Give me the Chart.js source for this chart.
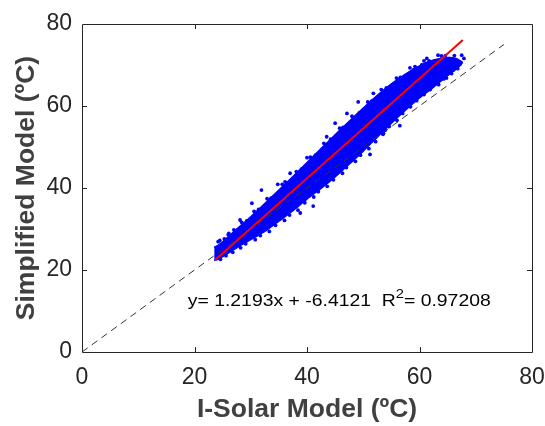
<!DOCTYPE html>
<html>
<head>
<meta charset="utf-8">
<script src="https://cdn.jsdelivr.net/npm/chart.js@4"></script>
<style>
  html, body { margin: 0; padding: 0; background: #fff; }
  #wrap { width: 545px; height: 426px; }
</style>
</head>
<body>
<div id="wrap"><canvas id="c" width="545" height="426"></canvas></div>
<script>
// ---- data ----
// dense core of the point cloud (upper / lower envelope)
const bandX     = [23.5, 24.5, 27.5, 30.0, 32.5, 35.0, 37.5, 40.0, 42.5, 45.0, 47.5, 50.0, 52.5, 55.0, 57.5, 60.0, 62.5, 65.0, 66.5, 67.5];
const bandUpper = [25.5, 26.3, 30.0, 33.0, 36.2, 39.5, 42.8, 46.2, 49.6, 53.0, 56.3, 59.5, 62.6, 65.4, 67.8, 69.8, 71.2, 71.8, 71.6, 70.8];
const bandLower = [22.3, 22.8, 25.4, 27.4, 29.4, 31.9, 34.5, 37.3, 39.9, 42.7, 45.8, 49.0, 52.4, 55.8, 59.0, 62.0, 64.6, 67.4, 69.0, 70.2];

// individual points visible around the edges of the cloud
const edgeX = [24.2, 25.3, 26.1, 27.0, 28.4, 29.3, 30.6, 31.4, 32.9, 33.6, 35.6, 36.4, 38.1, 39.0, 40.6, 41.5, 43.0, 44.2, 45.8, 46.4, 48.0, 49.3, 50.8, 51.5, 53.2, 54.1, 55.9, 56.6, 58.3, 59.2, 60.8, 61.7, 63.9, 64.6, 66.2,
               24.6, 25.6, 26.8, 28.2, 29.1, 30.8, 31.7, 33.3, 34.4, 36.0, 36.9, 38.4, 39.6, 41.2, 42.0, 43.6, 44.7, 46.3, 47.0, 48.6, 49.5, 51.0, 52.2, 53.5, 54.6, 56.0, 57.0, 58.4, 59.5, 60.8, 61.9, 63.4, 64.3, 65.7, 66.8, 67.4,
               24.5, 26.0, 28.1, 30.2, 31.9, 34.0, 34.8, 36.1, 37.0, 41.1, 38.8, 45.0, 47.1, 49.1, 51.8, 53.6, 51.2, 48.2, 53.9, 55.3, 58.6, 58.9, 60.4, 61.3, 61.9, 63.3, 63.3, 64.8, 66.0, 66.6, 67.5, 67.9, 43.5, 29.0, 40.0, 44.0, 56.5, 65.5];
const edgeY = [26.9, 27.6, 28.9, 29.8, 31.6, 32.0, 34.3, 34.8, 37.4, 37.5, 40.9, 41.2, 44.0, 44.6, 47.5, 48.0, 50.9, 51.9, 54.6, 54.8, 57.5, 58.3, 61.0, 61.2, 64.0, 64.4, 66.8, 67.0, 69.3, 69.6, 71.0, 71.0, 72.2, 72.3, 72.3,
               22.6, 23.5, 24.3, 25.4, 26.4, 27.4, 28.4, 29.4, 30.9, 32.1, 33.4, 34.6, 36.4, 37.8, 39.1, 40.4, 42.0, 43.6, 45.0, 46.5, 48.0, 49.6, 51.3, 53.1, 55.0, 56.5, 58.2, 59.8, 61.3, 62.8, 64.0, 65.2, 66.6, 67.9, 69.1, 70.6,
               27.2, 28.6, 32.2, 36.3, 39.5, 37.6, 40.9, 41.5, 43.6, 35.6, 33.9, 55.8, 58.2, 61.0, 63.1, 53.3, 48.2, 47.6, 54.1, 57.4, 61.5, 68.8, 70.0, 71.6, 65.1, 72.4, 65.5, 66.8, 68.8, 70.4, 72.4, 71.6, 52.5, 26.6, 47.4, 51.0, 55.2, 69.2];

const fitLineX = [23.6, 67.7];
const fitLineY = [22.4, 76.1];
const refLineX = [0, 75];
const refLineY = [0, 75];

const axisTicks = [0, 20, 40, 60, 80];
const xTitle = 'I-Solar Model (ºC)';
const yTitle = 'Simplified Model (ºC)';
const eqText = 'y= 1.2193x + -6.4121  R';
const eqSup = '2';
const eqTail = '= 0.97208';
const eqPos = [18.8, 11.1];

// ---- build datasets ----
const pts = (xs, ys) => xs.map((x, i) => ({ x: x, y: ys[i] }));
const FONT = "'Liberation Sans', Arial, Helvetica, sans-serif";
const BLUE = 'rgb(0,0,255)';

const framePlugin = {
  id: 'frame',
  afterDatasetsDraw(chart) {
    const { ctx, chartArea: a, scales } = chart;
    ctx.save();
    ctx.strokeStyle = '#262626';
    ctx.lineWidth = 1;
    ctx.beginPath();
    ctx.rect(Math.round(a.left) + 0.5, Math.round(a.top) + 0.5, Math.round(a.right - a.left), Math.round(a.bottom - a.top));
    ctx.stroke();
    const tl = 5;
    ctx.beginPath();
    axisTicks.forEach(v => {
      if (v === 0 || v === 80) return;
      const px = Math.round(scales.x.getPixelForValue(v)) + 0.5;
      ctx.moveTo(px, a.bottom); ctx.lineTo(px, a.bottom - tl);
      ctx.moveTo(px, a.top); ctx.lineTo(px, a.top + tl);
      const py = Math.round(scales.y.getPixelForValue(v)) + 0.5;
      ctx.moveTo(a.left, py); ctx.lineTo(a.left + tl, py);
      ctx.moveTo(a.right, py); ctx.lineTo(a.right - tl, py);
    });
    ctx.stroke();
    // equation text (MATLAB-style, slightly wide)
    const ex = scales.x.getPixelForValue(eqPos[0]);
    const ey = scales.y.getPixelForValue(eqPos[1]);
    ctx.fillStyle = '#000';
    ctx.textBaseline = 'alphabetic';
    ctx.textAlign = 'left';
    const mainFont = '16.5px ' + FONT, supFont = '12.5px ' + FONT;
    ctx.font = mainFont; const w1 = ctx.measureText(eqText).width; const w3 = ctx.measureText(eqTail).width;
    ctx.font = supFont; const w2 = ctx.measureText(eqSup).width;
    const sx = 303 / (w1 + w2 + w3);
    ctx.translate(ex, ey);
    ctx.scale(sx, 1);
    ctx.font = mainFont; ctx.fillText(eqText, 0, 0);
    ctx.font = supFont; ctx.fillText(eqSup, w1, -8.5);
    ctx.font = mainFont; ctx.fillText(eqTail, w1 + w2, 0);
    ctx.restore();
  }
};

new Chart(document.getElementById('c'), {
  type: 'scatter',
  data: {
    datasets: [
      { type: 'line', label: 'upper', data: pts(bandX, bandUpper), borderColor: BLUE, backgroundColor: BLUE, borderWidth: 1.5, pointRadius: 0, tension: 0.3, fill: '+1', order: 5 },
      { type: 'line', label: 'lower', data: pts(bandX, bandLower), borderColor: BLUE, backgroundColor: BLUE, borderWidth: 1.5, pointRadius: 0, tension: 0.3, fill: false, order: 4 },
      { label: 'points', data: pts(edgeX, edgeY), backgroundColor: BLUE, borderWidth: 0, pointRadius: 1.9, order: 3 },
      { type: 'line', label: 'y=x', data: pts(refLineX, refLineY), borderColor: '#333', borderWidth: 1, borderDash: [7, 5], pointRadius: 0, fill: false, order: 2 },
      { type: 'line', label: 'fit', data: pts(fitLineX, fitLineY), borderColor: 'rgb(255,0,0)', borderWidth: 2, pointRadius: 0, fill: false, order: 1 }
    ]
  },
  options: {
    responsive: false,
    animation: false,
    events: [],
    layout: { padding: { top: 24, right: 13, left: 0, bottom: 0 } },
    plugins: { legend: { display: false }, tooltip: { enabled: false } },
    scales: {
      x: {
        type: 'linear', min: 0, max: 80,
        afterBuildTicks: s => { s.ticks = axisTicks.map(v => ({ value: v })); },
        afterFit: s => { s.height = 74; s.paddingLeft = 0; s.paddingRight = 0; },
        grid: { display: false, drawTicks: false },
        border: { display: false },
        ticks: { padding: 12, color: '#262626', font: { family: FONT, size: 23 } },
        title: { display: true, text: xTitle, color: '#404040', padding: { top: 0, bottom: 0 }, font: { family: FONT, size: 26.5, weight: 'bold' } }
      },
      y: {
        type: 'linear', min: 0, max: 80,
        afterBuildTicks: s => { s.ticks = axisTicks.map(v => ({ value: v })); },
        afterFit: s => { s.width = 82; s.paddingTop = 0; s.paddingBottom = 0; },
        grid: { display: false, drawTicks: false },
        border: { display: false },
        ticks: { padding: 10, color: '#262626', font: { family: FONT, size: 23 } },
        title: { display: true, text: yTitle, color: '#404040', padding: { top: 11, bottom: 0 }, font: { family: FONT, size: 26.5, weight: 'bold' } }
      }
    }
  },
  plugins: [framePlugin]
});
</script>
</body>
</html>
